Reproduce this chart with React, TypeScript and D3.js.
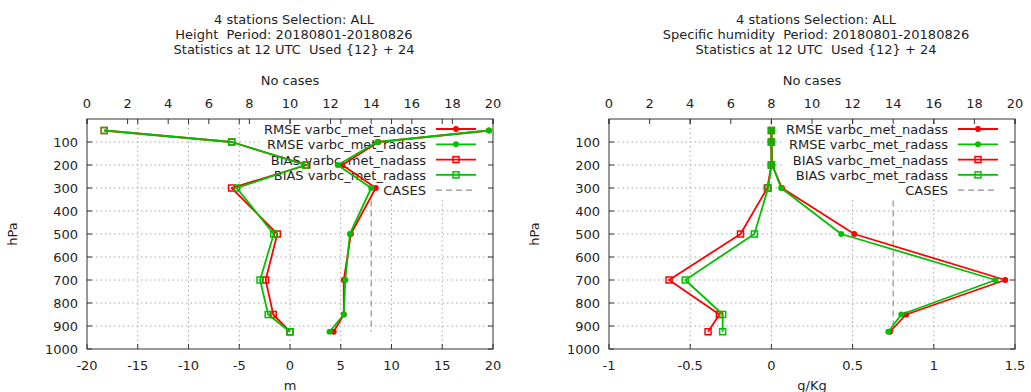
import { useEffect, useRef } from "react";
import * as d3 from "d3";

// pressure levels of the verification
const LEVELS = [50, 100, 200, 300, 500, 700, 850, 925];
const PRESSURE_TICKS = [100, 200, 300, 400, 500, 600, 700, 800, 900, 1000];
const CASES_TICKS = [0, 2, 4, 6, 8, 10, 12, 14, 16, 18, 20];
const CASES = [14, 14, 14, 14, 14, 14, 14, 14];

const SERIES_NAMES = [
  "RMSE varbc_met_nadass",
  "RMSE varbc_met_radass",
  "BIAS varbc_met_nadass",
  "BIAS varbc_met_radass",
];

// Height (m)
const HEIGHT_TICKS = [-20, -15, -10, -5, 0, 5, 10, 15, 20];
const HEIGHT_RMSE_NADASS = [19.6, 8.7, 5.15, 8.45, 6.0, 5.3, 5.3, 4.3];
const HEIGHT_RMSE_RADASS = [19.6, 8.6, 4.7, 8.0, 5.9, 5.45, 5.3, 3.9];
const HEIGHT_BIAS_NADASS = [-18.3, -5.75, 1.65, -5.75, -1.25, -2.4, -1.65, 0.0];
const HEIGHT_BIAS_RADASS = [-18.3, -5.75, 1.5, -5.25, -1.6, -2.95, -2.15, 0.0];

// Specific humidity (g/Kg)
const HUMID_TICKS = [-1, -0.5, 0, 0.5, 1, 1.5];
const HUMID_RMSE_NADASS = [0.0, 0.0, 0.005, 0.065, 0.51, 1.44, 0.83, 0.73];
const HUMID_RMSE_RADASS = [0.0, 0.0, 0.005, 0.06, 0.43, 1.38, 0.8, 0.72];
const HUMID_BIAS_NADASS = [0.0, 0.0, 0.0, -0.025, -0.19, -0.63, -0.32, -0.39];
const HUMID_BIAS_RADASS = [0.0, 0.0, 0.0, -0.02, -0.105, -0.53, -0.3, -0.3];

const RED = "#ff0000";
const GREEN = "#00c000";
const TEXT = "#1e1e1e";
const FONT = "DejaVu Sans, sans-serif";

type PanelCfg = {
  left: number;
  title: string[];
  xTicks: number[];
  xLabel: string;
  series: number[][];
};

const TOP = 119;
const BOTTOM = 349;
const PW = 406;

function drawPanel(
  svg: d3.Selection<SVGSVGElement, unknown, null, undefined>,
  cfg: PanelCfg
) {
  const L = cfg.left;
  const R = L + PW;
  const cx = (L + R) / 2;
  const g = svg.append("g");

  const x = d3
    .scaleLinear()
    .domain([cfg.xTicks[0], cfg.xTicks[cfg.xTicks.length - 1]])
    .range([L, R]);
  const x2 = d3.scaleLinear().domain([0, 20]).range([L, R]);
  const y = d3.scaleLinear().domain([0, 1000]).range([TOP, BOTTOM]);

  // titles (keep the double spaces)
  cfg.title.forEach((t, i) => {
    g.append("text")
      .attr("x", cx + 4)
      .attr("y", 24 + i * 15)
      .attr("text-anchor", "middle")
      .attr("font-size", 13)
      .attr("fill", TEXT)
      .style("white-space", "pre")
      .text(t);
  });
  g.append("text")
    .attr("x", cx)
    .attr("y", 85)
    .attr("text-anchor", "middle")
    .attr("font-size", 13)
    .attr("fill", TEXT)
    .text("No cases");

  // grid
  const grid = g.append("g").attr("stroke", "#a8a8a8").attr("stroke-width", 1).attr("stroke-dasharray", "1.5,3");
  cfg.xTicks.slice(1, -1).forEach((v) => {
    grid.append("line").attr("x1", x(v)).attr("x2", x(v)).attr("y1", TOP).attr("y2", BOTTOM);
  });
  PRESSURE_TICKS.slice(0, -1).forEach((v) => {
    grid.append("line").attr("x1", L).attr("x2", R).attr("y1", y(v)).attr("y2", y(v));
  });

  // cases
  g.append("path")
    .attr("d", d3.line<number>().x((c) => x2(c)).y((_, i) => y(LEVELS[i]))(CASES) ?? "")
    .attr("fill", "none")
    .attr("stroke", "#909090")
    .attr("stroke-width", 1.2)
    .attr("stroke-dasharray", "6,4");

  // legend
  g.append("rect")
    .attr("x", R - 232)
    .attr("y", TOP + 1)
    .attr("width", 231)
    .attr("height", 77)
    .attr("fill", "#ffffff");
  const names = [...SERIES_NAMES, "CASES"];
  names.forEach((name, i) => {
    const ly = 129 + i * 15.3;
    g.append("text")
      .attr("x", R - 67)
      .attr("y", ly + 5)
      .attr("text-anchor", "end")
      .attr("font-size", 13)
      .attr("fill", TEXT)
      .text(name);
    const col = i === 4 ? "#909090" : i % 2 === 0 ? RED : GREEN;
    g.append("line")
      .attr("x1", R - 57)
      .attr("x2", R - 17)
      .attr("y1", ly)
      .attr("y2", ly)
      .attr("stroke", col)
      .attr("stroke-width", i === 4 ? 1.2 : 1.8)
      .attr("stroke-dasharray", i === 4 ? "6,4" : null);
    if (i < 2) {
      g.append("circle").attr("cx", R - 37).attr("cy", ly).attr("r", 3).attr("fill", col);
    } else if (i < 4) {
      g.append("rect")
        .attr("x", R - 40)
        .attr("y", ly - 3)
        .attr("width", 6)
        .attr("height", 6)
        .attr("fill", "none")
        .attr("stroke", col)
        .attr("stroke-width", 1.5);
    }
  });

  // data
  const line = d3
    .line<number>()
    .x((v) => x(v))
    .y((_, i) => y(LEVELS[i]));
  cfg.series.forEach((vals, s) => {
    const col = s % 2 === 0 ? RED : GREEN;
    g.append("path")
      .attr("d", line(vals) ?? "")
      .attr("fill", "none")
      .attr("stroke", col)
      .attr("stroke-width", 1.8)
      .attr("stroke-linejoin", "round");
    vals.forEach((v, i) => {
      if (s < 2) {
        g.append("circle").attr("cx", x(v)).attr("cy", y(LEVELS[i])).attr("r", 3).attr("fill", col);
      } else {
        g.append("rect")
          .attr("x", x(v) - 3)
          .attr("y", y(LEVELS[i]) - 3)
          .attr("width", 6)
          .attr("height", 6)
          .attr("fill", "none")
          .attr("stroke", col)
          .attr("stroke-width", 1.5);
      }
    });
  });

  // border & ticks
  g.append("rect")
    .attr("x", L)
    .attr("y", TOP)
    .attr("width", PW)
    .attr("height", BOTTOM - TOP)
    .attr("fill", "none")
    .attr("stroke", "#333")
    .attr("stroke-width", 1);
  const ticks = g.append("g").attr("stroke", "#333").attr("stroke-width", 1);
  cfg.xTicks.forEach((v) => {
    ticks.append("line").attr("x1", x(v)).attr("x2", x(v)).attr("y1", BOTTOM).attr("y2", BOTTOM - 5);
    ticks.append("line").attr("x1", x(v)).attr("x2", x(v)).attr("y1", TOP).attr("y2", TOP + 5);
    g.append("text")
      .attr("x", x(v))
      .attr("y", 370)
      .attr("text-anchor", "middle")
      .attr("font-size", 13)
      .attr("fill", TEXT)
      .text(String(v));
  });
  CASES_TICKS.forEach((v) => {
    ticks.append("line").attr("x1", x2(v)).attr("x2", x2(v)).attr("y1", TOP).attr("y2", TOP + 5);
    g.append("text")
      .attr("x", x2(v))
      .attr("y", 108)
      .attr("text-anchor", "middle")
      .attr("font-size", 13)
      .attr("fill", TEXT)
      .text(String(v));
  });
  PRESSURE_TICKS.forEach((v) => {
    ticks.append("line").attr("x1", L).attr("x2", L + 5).attr("y1", y(v)).attr("y2", y(v));
    ticks.append("line").attr("x1", R).attr("x2", R - 5).attr("y1", y(v)).attr("y2", y(v));
    g.append("text")
      .attr("x", L - 9)
      .attr("y", y(v) + 5)
      .attr("text-anchor", "end")
      .attr("font-size", 13)
      .attr("fill", TEXT)
      .text(String(v));
  });

  g.append("text")
    .attr("x", cx)
    .attr("y", 390)
    .attr("text-anchor", "middle")
    .attr("font-size", 13)
    .attr("fill", TEXT)
    .text(cfg.xLabel);
  g.append("text")
    .attr("transform", `translate(${L - 70}, ${(TOP + BOTTOM) / 2}) rotate(-90)`)
    .attr("text-anchor", "middle")
    .attr("font-size", 13)
    .attr("fill", TEXT)
    .text("hPa");
}

const App = () => {
  const svgRef = useRef<SVGSVGElement | null>(null);

  useEffect(() => {
    if (!svgRef.current) return;
    const svg = d3.select(svgRef.current);
    svg.selectAll("*").remove();
    svg.attr("font-family", FONT);

    drawPanel(svg, {
      left: 87,
      title: [
        "4 stations Selection: ALL",
        "Height  Period: 20180801-20180826",
        "Statistics at 12 UTC  Used {12} + 24",
      ],
      xTicks: HEIGHT_TICKS,
      xLabel: "m",
      series: [HEIGHT_RMSE_NADASS, HEIGHT_RMSE_RADASS, HEIGHT_BIAS_NADASS, HEIGHT_BIAS_RADASS],
    });
    drawPanel(svg, {
      left: 609,
      title: [
        "4 stations Selection: ALL",
        "Specific humidity  Period: 20180801-20180826",
        "Statistics at 12 UTC  Used {12} + 24",
      ],
      xTicks: HUMID_TICKS,
      xLabel: "g/Kg",
      series: [HUMID_RMSE_NADASS, HUMID_RMSE_RADASS, HUMID_BIAS_NADASS, HUMID_BIAS_RADASS],
    });
  }, []);

  return (
    <svg
      ref={svgRef}
      width={1031}
      height={392}
      style={{ position: "absolute", left: 0, top: 0, background: "#fff" }}
    />
  );
};

export default App;
